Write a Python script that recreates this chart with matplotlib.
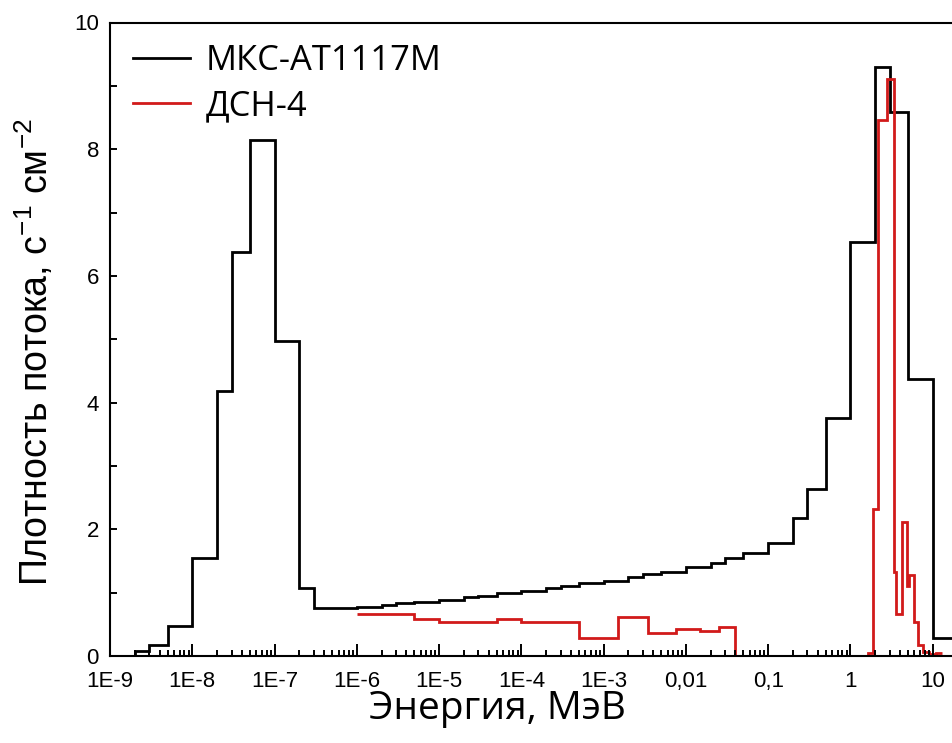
import matplotlib
matplotlib.use("Agg")
import matplotlib.pyplot as plt
from matplotlib.ticker import FixedLocator, LogLocator, NullFormatter

# МКС-АТ1117М: bin edges (MeV) and flux density
mks_edges = [1e-9, 2e-9, 3e-9, 5e-9, 1e-8, 2e-8, 3e-8, 5e-8, 1e-7, 2e-7, 3e-7, 5e-7,
             1e-6, 2e-6, 3e-6, 5e-6, 1e-5, 2e-5, 3e-5, 5e-5, 1e-4, 2e-4, 3e-4, 5e-4,
             1e-3, 2e-3, 3e-3, 5e-3, 1e-2, 2e-2, 3e-2, 5e-2, 0.1, 0.2, 0.3, 0.5,
             1, 2, 3, 5, 10, 20]
mks_vals = [0, 0.08, 0.17, 0.48, 1.54, 4.18, 6.37, 8.15, 4.98, 1.07, 0.75, 0.75,
            0.78, 0.80, 0.83, 0.86, 0.89, 0.93, 0.95, 0.99, 1.02, 1.07, 1.11, 1.15,
            1.18, 1.24, 1.29, 1.33, 1.41, 1.47, 1.54, 1.62, 1.79, 2.18, 2.64, 3.75,
            6.53, 9.29, 8.58, 4.37, 0.28]

# ДСН-4
dsn_edges = [1e-6, 5e-6, 1e-5, 5e-5, 1e-4, 5e-4, 1.5e-3, 3.5e-3, 7.5e-3, 1.5e-2,
             2.5e-2, 4e-2, 1.65, 1.88, 2.16, 2.8, 3.36, 3.6, 4.23, 4.8, 5.1, 5.9,
             6.6, 7.6, 9.0, 11.0, 13.0]
dsn_vals = [0.67, 0.59, 0.53, 0.59, 0.53, 0.29, 0.62, 0.37, 0.43, 0.40,
            0.46, 0, 0.04, 2.32, 8.46, 9.11, 1.32, 0.66, 2.11, 1.11, 1.28, 0.53,
            0.17, 0.07, 0.03, 0.05]

xticks = [1e-9, 1e-8, 1e-7, 1e-6, 1e-5, 1e-4, 1e-3, 1e-2, 0.1, 1, 10]
xlabels = ["1E-9", "1E-8", "1E-7", "1E-6", "1E-5", "1E-4", "1E-3", "0,01", "0,1", "1", "10"]

plt.rcParams['font.family'] = ['Liberation Sans', 'DejaVu Sans']
plt.rcParams['mathtext.default'] = 'regular'

fig = plt.figure(figsize=(9.52, 7.43), dpi=100)
# axes run past the right edge of the picture, as in the reference
ax = fig.add_axes([110/952, 87/743, 905/952, 633.5/743])

ax.stairs(mks_vals, mks_edges, baseline=None, color="black", lw=2.0, label="МКС-АТ1117М")
ax.stairs(dsn_vals, dsn_edges, baseline=None, color="#d11a1a", lw=2.0, label="ДСН-4")

ax.set_xscale("log")
ax.set_xlim(1e-9, 1e2)
ax.set_ylim(0, 10)

ax.xaxis.set_major_locator(FixedLocator(xticks))
ax.set_xticklabels(xlabels)
ax.xaxis.set_minor_locator(LogLocator(base=10, subs=range(2, 10), numticks=30))
ax.xaxis.set_minor_formatter(NullFormatter())
ax.set_yticks([0, 2, 4, 6, 8, 10])
ax.set_yticks([1, 3, 5, 7, 9], minor=True)

ax.tick_params(axis="both", which="both", direction="in", width=1.4, labelsize=16)
ax.tick_params(axis="x", which="major", length=8.5, pad=11)
ax.tick_params(axis="x", which="minor", length=4.5)
ax.tick_params(axis="y", which="both", length=5, pad=8)
ax.tick_params(top=False, right=False, which="both")
for s in ax.spines.values():
    s.set_linewidth(1.5)

ax.set_xlabel("Энергия, МэВ", family=["Open Sans", "DejaVu Sans"], fontsize=28)
ax.xaxis.set_label_coords((497-110)/905, -0.054)
ax.set_ylabel("Плотность потока, с$^{-1}$ см$^{-2}$", fontsize=27)
ax.yaxis.set_label_coords(-0.06, 0.48)

ax.legend(loc="upper left", bbox_to_anchor=(0.0254, 0.966), frameon=False,
          borderpad=0, borderaxespad=0, handlelength=1.65, handletextpad=0.45,
          labelspacing=0.33, prop={"family": ["Open Sans", "DejaVu Sans"], "size": 24.8})

fig.savefig("out.png", dpi=100)
